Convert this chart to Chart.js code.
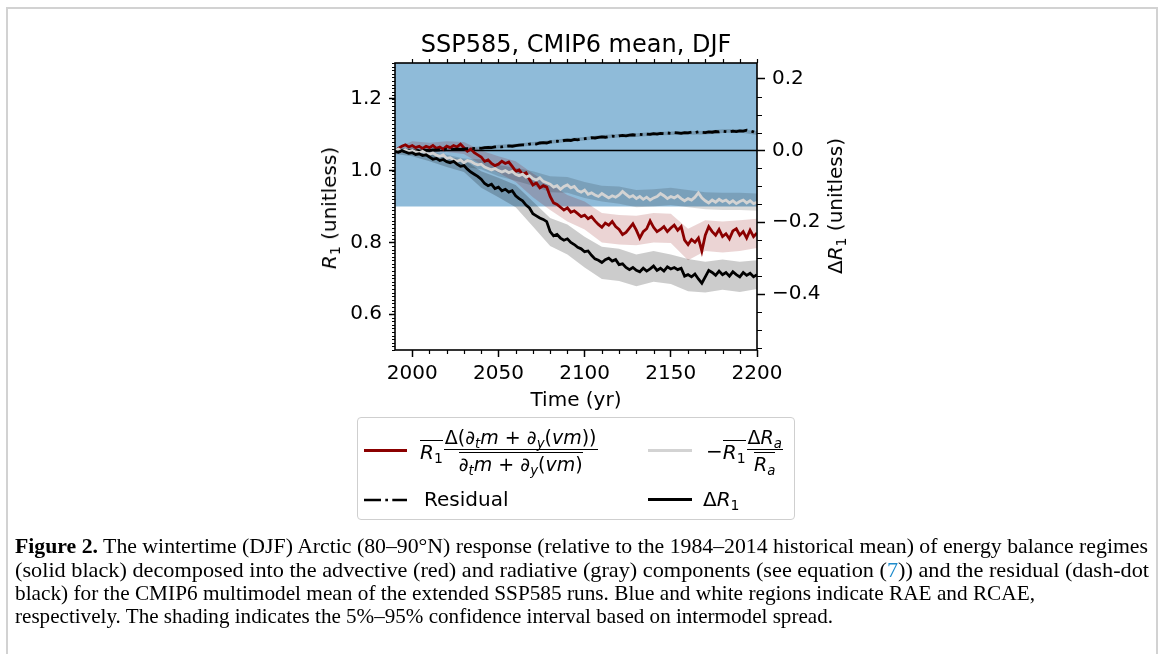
<!DOCTYPE html>
<html>
<head>
<meta charset="utf-8">
<script src="https://cdn.jsdelivr.net/npm/chart.js@4.4.0/dist/chart.umd.min.js"></script>
<style>
  html, body { margin: 0; padding: 0; background: #fff; overflow: hidden; }
  body { width: 1165px; height: 654px; position: relative; font-family: 'DejaVu Sans', sans-serif; color: #000; }
  #frame { position: absolute; left: 6px; top: 7px; width: 1152px; height: 700px; border: 2px solid #d2d2d2; box-sizing: border-box; }
  #c { position: absolute; left: 0; top: 0; }
  .abs { position: absolute; white-space: nowrap; }
  sub { font-size: 0.7em; vertical-align: -0.3em; line-height: 0; }
  .ytitle { font-size: 20px; transform: translate(-50%, -50%) rotate(-90deg); line-height: 24px; }
  #legend { position: absolute; left: 357px; top: 417px; width: 438px; height: 103px; border: 1px solid #cfcfcf; border-radius: 4px; box-sizing: border-box; }
  .swatch { position: absolute; height: 3px; }
  .lab { position: absolute; display: flex; align-items: center; font-size: 20px; white-space: nowrap; }
  .ov { display: inline-block; border-top: 1.3px solid #000; line-height: 20px; padding-top: 1px; }
  .frac { display: inline-flex; flex-direction: column; align-items: center; font-size: 19px; line-height: 21px; margin-left: 1px; }
  .num { border-bottom: 1.3px solid #000; padding: 0 1px 1px 1px; }
  .den { padding-top: 2px; }
  .den .ov { line-height: 21px; }
  .txt { position: absolute; font-size: 20px; line-height: 24px; white-space: nowrap; }
  .cap { position: absolute; left: 15px; font-family: 'Liberation Serif', serif; font-size: 21.5px; line-height: 24px; white-space: nowrap; }
  .cap .l { display: inline-block; transform-origin: 0 50%; }
  .cap .ref { color: #1f8ccc; }
</style>
</head>
<body>
<div id="frame"></div>
<canvas id="c" width="1165" height="654"></canvas>

<div class="abs ytitle" style="left:329px; top:208px;"><i>R</i><sub>1</sub> (unitless)</div>
<div class="abs ytitle" style="left:835px; top:206px;">Δ<i>R</i><sub>1</sub> (unitless)</div>

<div id="legend"></div>
<div class="swatch" style="left:364px; top:449px; width:43px; background:#8b0000;"></div>
<svg class="abs" style="left:364px; top:495px;" width="43" height="10"><line x1="0" y1="5" x2="43" y2="5" stroke="#000" stroke-width="2.7" stroke-dasharray="17,4.3,2.7,4.3"/></svg>
<div class="swatch" style="left:648px; top:449px; width:44px; background:#d3d3d3;"></div>
<div class="swatch" style="left:648px; top:498px; width:44px; background:#000;"></div>

<div class="lab" style="left:420px; top:425px; height:52px;">
  <span class="ov"><i>R</i><sub>1</sub></span>
  <span class="frac">
    <span class="num">Δ(<i>∂</i><sub><i>t</i></sub><i>m</i> + <i>∂</i><sub><i>y</i></sub>(<i>vm</i>))</span>
    <span class="den"><span class="ov"><i>∂</i><sub><i>t</i></sub><i>m</i> + <i>∂</i><sub><i>y</i></sub>(<i>vm</i>)</span></span>
  </span>
</div>
<div class="lab" style="left:706px; top:425px; height:52px;">
  <span>−</span><span class="ov"><i>R</i><sub>1</sub></span>
  <span class="frac">
    <span class="num">Δ<i>R</i><sub><i>a</i></sub></span>
    <span class="den"><span class="ov"><i>R</i><sub><i>a</i></sub></span></span>
  </span>
</div>
<div class="txt" style="left:424px; top:487px;">Residual</div>
<div class="txt" style="left:703px; top:487px;">Δ<i>R</i><sub>1</sub></div>

<div class="cap" style="top:534px;"><span class="l" data-w="1133"><b>Figure 2.</b> The wintertime (DJF) Arctic (80–90°N) response (relative to the 1984–2014 historical mean) of energy balance regimes</span></div>
<div class="cap" style="top:558px;"><span class="l" data-w="1134">(solid black) decomposed into the advective (red) and radiative (gray) components (see equation (<span class="ref">7</span>)) and the residual (dash-dot</span></div>
<div class="cap" style="top:581px;"><span class="l" data-w="1020">black) for the CMIP6 multimodel mean of the extended SSP585 runs. Blue and white regions indicate RAE and RCAE,</span></div>
<div class="cap" style="top:604px;"><span class="l" data-w="818">respectively. The shading indicates the 5%–95% confidence interval based on intermodel spread.</span></div>

<script>
// samples every 2 years from 1990 to 2200 (values are ΔR1 units, right axis)
var startYear = 1990, endYear = 2200;
var years = [];
for (var yr = startYear; yr <= endYear; yr += 2) years.push(yr);
var bandYears = [];
for (var yb = startYear; yb <= endYear; yb += 10) bandYears.push(yb);

var r1Ref = 1.056;          // 1984-2014 historical mean R1 (left axis value of ΔR1 = 0)
var raeThreshold = 0.9;     // RAE above, RCAE below

var advective = [
  -0.004, 0.006, 0.012, 0.016, 0.010, 0.014, 0.008, 0.012, 0.006, 0.012,
  0.008, 0.014, 0.006, 0.010, 0.004, 0.012, 0.008, 0.014, 0.010, 0.018,
  0.008, -0.002, 0.004, -0.006, -0.012, -0.018, -0.030, -0.026, -0.036, -0.042,
  -0.038, -0.030, -0.036, -0.032, -0.044, -0.058, -0.054, -0.066, -0.062, -0.080,
  -0.096, -0.090, -0.104, -0.098, -0.102, -0.128, -0.146, -0.150, -0.158, -0.166,
  -0.160, -0.172, -0.168, -0.176, -0.184, -0.180, -0.190, -0.184, -0.196, -0.206,
  -0.214, -0.202, -0.208, -0.198, -0.212, -0.220, -0.234, -0.228, -0.216, -0.204,
  -0.222, -0.244, -0.226, -0.218, -0.196, -0.214, -0.226, -0.220, -0.212, -0.226,
  -0.216, -0.208, -0.222, -0.212, -0.250, -0.262, -0.248, -0.256, -0.244, -0.280,
  -0.236, -0.212, -0.226, -0.236, -0.220, -0.240, -0.232, -0.246, -0.224, -0.218,
  -0.236, -0.226, -0.244, -0.222, -0.240, -0.230
];
var radiative = [
  0.000, 0.004, -0.002, 0.002, -0.003, 0.000, -0.004, -0.006, -0.002, -0.008,
  -0.010, -0.007, -0.013, -0.016, -0.012, -0.022, -0.020, -0.026, -0.030, -0.026,
  -0.034, -0.028, -0.030, -0.036, -0.040, -0.038, -0.046, -0.050, -0.054, -0.050,
  -0.056, -0.060, -0.056, -0.062, -0.058, -0.066, -0.070, -0.066, -0.074, -0.070,
  -0.078, -0.082, -0.076, -0.086, -0.090, -0.094, -0.102, -0.098, -0.108, -0.100,
  -0.096, -0.104, -0.100, -0.112, -0.116, -0.110, -0.122, -0.118, -0.124, -0.128,
  -0.120, -0.126, -0.132, -0.126, -0.130, -0.124, -0.114, -0.122, -0.130, -0.126,
  -0.134, -0.128, -0.136, -0.130, -0.138, -0.132, -0.128, -0.120, -0.126, -0.134,
  -0.128, -0.132, -0.126, -0.134, -0.140, -0.134, -0.138, -0.130, -0.118, -0.132,
  -0.140, -0.146, -0.138, -0.144, -0.136, -0.142, -0.138, -0.146, -0.140, -0.148,
  -0.142, -0.138, -0.146, -0.140, -0.148, -0.144
];
var residual = [
  -0.002, -0.001, -0.002, 0.000, -0.001, 0.000, 0.001, -0.001, 0.000, 0.001,
  0.000, 0.002, 0.001, 0.002, 0.001, 0.003, 0.002, 0.003, 0.004, 0.003,
  0.004, 0.005, 0.005, 0.006, 0.007, 0.006, 0.008, 0.009, 0.008, 0.010,
  0.011, 0.010, 0.012, 0.013, 0.012, 0.014, 0.015, 0.016, 0.015, 0.018,
  0.019, 0.018, 0.021, 0.022, 0.021, 0.024, 0.025, 0.026, 0.025, 0.028,
  0.029, 0.028, 0.031, 0.030, 0.032, 0.033, 0.034, 0.036, 0.035, 0.037,
  0.038, 0.037, 0.039, 0.040, 0.039, 0.041, 0.042, 0.041, 0.043, 0.044,
  0.043, 0.045, 0.044, 0.046, 0.045, 0.047, 0.046, 0.048, 0.047, 0.049,
  0.048, 0.050, 0.049, 0.048, 0.050, 0.049, 0.051, 0.050, 0.052, 0.051,
  0.050, 0.052, 0.051, 0.053, 0.052, 0.054, 0.053, 0.052, 0.054, 0.053,
  0.055, 0.054, 0.057, 0.055, 0.052, 0.048
];
var deltaR1 = [
  -0.002, -0.005, 0.000, -0.004, -0.008, -0.006, -0.011, -0.009, -0.014, -0.012,
  -0.018, -0.024, -0.022, -0.028, -0.025, -0.031, -0.034, -0.030, -0.038, -0.044,
  -0.042, -0.052, -0.060, -0.066, -0.072, -0.080, -0.092, -0.098, -0.094, -0.106,
  -0.102, -0.112, -0.108, -0.116, -0.112, -0.126, -0.134, -0.140, -0.152, -0.160,
  -0.176, -0.182, -0.188, -0.192, -0.198, -0.226, -0.238, -0.234, -0.244, -0.250,
  -0.246, -0.256, -0.262, -0.270, -0.274, -0.282, -0.280, -0.292, -0.302, -0.306,
  -0.312, -0.304, -0.300, -0.308, -0.304, -0.318, -0.316, -0.326, -0.332, -0.326,
  -0.334, -0.338, -0.328, -0.336, -0.330, -0.322, -0.334, -0.328, -0.336, -0.324,
  -0.330, -0.326, -0.332, -0.328, -0.350, -0.346, -0.352, -0.344, -0.358, -0.370,
  -0.352, -0.334, -0.340, -0.348, -0.336, -0.346, -0.340, -0.350, -0.338, -0.346,
  -0.352, -0.340, -0.348, -0.342, -0.352, -0.346
];

// 5-95% spread, every 10 years
var advectiveLow  = [-0.012, 0.002, -0.006, -0.004, -0.010, -0.038, -0.062, -0.088, -0.130, -0.166, -0.198, -0.220, -0.256, -0.262, -0.264, -0.256, -0.258, -0.306, -0.280, -0.284, -0.280, -0.272];
var advectiveHigh = [0.006, 0.026, 0.022, 0.026, 0.024, 0.000, -0.016, -0.030, -0.064, -0.094, -0.124, -0.142, -0.174, -0.180, -0.182, -0.174, -0.176, -0.218, -0.194, -0.198, -0.194, -0.190];
var radiativeLow  = [-0.006, -0.008, -0.018, -0.032, -0.046, -0.052, -0.072, -0.084, -0.098, -0.116, -0.118, -0.132, -0.142, -0.148, -0.158, -0.156, -0.152, -0.158, -0.164, -0.166, -0.166, -0.168];
var radiativeHigh = [0.006, 0.008, -0.002, -0.012, -0.022, -0.024, -0.040, -0.048, -0.058, -0.072, -0.074, -0.088, -0.098, -0.100, -0.110, -0.108, -0.104, -0.110, -0.116, -0.118, -0.118, -0.120];
var residualLow   = [-0.007, -0.005, -0.005, -0.002, -0.001, 0.001, 0.006, 0.009, 0.014, 0.019, 0.024, 0.028, 0.033, 0.036, 0.038, 0.042, 0.043, 0.044, 0.045, 0.049, 0.050, 0.043];
var residualHigh  = [0.003, 0.005, 0.005, 0.008, 0.009, 0.011, 0.016, 0.019, 0.024, 0.029, 0.034, 0.038, 0.043, 0.046, 0.048, 0.052, 0.053, 0.054, 0.055, 0.059, 0.060, 0.054];
var deltaLow      = [-0.010, -0.016, -0.030, -0.046, -0.060, -0.104, -0.130, -0.158, -0.212, -0.266, -0.290, -0.326, -0.358, -0.364, -0.378, -0.366, -0.372, -0.392, -0.396, -0.388, -0.394, -0.386];
var deltaHigh     = [0.006, 0.004, -0.008, -0.018, -0.026, -0.058, -0.076, -0.096, -0.142, -0.188, -0.206, -0.240, -0.268, -0.274, -0.290, -0.280, -0.290, -0.302, -0.310, -0.304, -0.310, -0.306];

var xTicks = [2000, 2050, 2100, 2150, 2200];
var leftTicks = [0.6, 0.8, 1.0, 1.2];
var rightTicks = [-0.4, -0.2, 0.0, 0.2];

function pts(xs, ys) { return ys.map(function(v, i) { return {x: xs[i], y: v}; }); }
function band(lo, hi, color, ord) {
  return [
    {data: pts(bandYears, lo), yAxisID: 'y1', borderWidth: 0, pointRadius: 0, fill: false, order: ord},
    {data: pts(bandYears, hi), yAxisID: 'y1', borderWidth: 0, pointRadius: 0, fill: '-1', backgroundColor: color, order: ord}
  ];
}
function line(ys, color, ord, dash) {
  return {data: pts(years, ys), yAxisID: 'y1', borderColor: color, borderWidth: 2.8, pointRadius: 0,
    tension: 0, fill: false, order: ord, borderDash: dash || [], borderCapStyle: 'butt'};
}

var datasets = [
  {data: [{x: startYear, y: raeThreshold}, {x: endYear, y: raeThreshold}], yAxisID: 'y',
   borderWidth: 0, pointRadius: 0, fill: 'end', backgroundColor: '#8fbbd9', order: 20}
].concat(
  band(advectiveLow, advectiveHigh, 'rgba(139,0,0,0.17)', 9),
  band(residualLow, residualHigh, 'rgba(0,0,0,0.18)', 8),
  band(radiativeLow, radiativeHigh, 'rgba(0,0,0,0.14)', 7),
  band(deltaLow, deltaHigh, 'rgba(0,0,0,0.2)', 6),
  [
    {data: [{x: startYear, y: 0}, {x: endYear, y: 0}], yAxisID: 'y1', borderColor: '#000', borderWidth: 1.6, pointRadius: 0, order: 5},
    line(advective, '#8b0000', 4),
    line(residual, '#000', 3, [17, 4.3, 2.7, 4.3]),
    line(radiative, '#d3d3d3', 2),
    line(deltaR1, '#000', 1)
  ]
);

var frameAndMinor = {
  id: 'frameAndMinor',
  afterDatasetsDraw: function(chart) {
    var ctx = chart.ctx, a = chart.chartArea, s = chart.scales;
    var px = function(v) { return Math.round(v) + 0.5; };
    ctx.save();
    ctx.strokeStyle = '#000';
    ctx.lineWidth = 1.2;
    ctx.beginPath();
    for (var k = 50; k <= 130; k++) {
      var yy = px(s.y.getPixelForValue(k / 100));
      ctx.moveTo(a.left - 3, yy); ctx.lineTo(a.left, yy);
    }
    for (var j = -11; j <= 4; j++) {
      if (j % 4 === 0) continue;
      var y1 = px(s.y1.getPixelForValue(j * 0.05));
      ctx.moveTo(a.right, y1); ctx.lineTo(a.right + 5, y1);
    }
    for (var t = 2000; t <= 2200; t += 10) {
      var xx = px(s.x.getPixelForValue(t));
      ctx.moveTo(xx, a.top); ctx.lineTo(xx, a.top - 4);
      if (t % 50 !== 0) { ctx.moveTo(xx, a.bottom); ctx.lineTo(xx, a.bottom + 4); }
    }
    ctx.stroke();
    ctx.lineWidth = 1.6;
    ctx.strokeRect(a.left, a.top, a.right - a.left, a.bottom - a.top);
    ctx.restore();
  }
};

Chart.defaults.font.family = "'DejaVu Sans', sans-serif";
Chart.defaults.color = '#000';

var tickGrid = function(len) {
  return {drawOnChartArea: false, drawTicks: true, tickLength: len, tickWidth: 1.5, tickColor: '#000'};
};
function minusFmt(v) { return (v < -1e-9 ? '\u2212' : '') + Math.abs(v).toFixed(1); }

new Chart(document.getElementById('c'), {
  type: 'line',
  data: {datasets: datasets},
  plugins: [frameAndMinor],
  options: {
    responsive: false,
    animation: false,
    devicePixelRatio: 1,
    layout: {padding: {left: 325, right: 338, top: 0, bottom: 241}},
    plugins: {
      legend: {display: false},
      tooltip: {enabled: false},
      title: {display: true, text: 'SSP585, CMIP6 mean, DJF', color: '#000',
        font: {size: 24, weight: 'normal'}, padding: {top: 31, bottom: 3.2}}
    },
    scales: {
      x: {
        type: 'linear', position: 'bottom', min: startYear, max: endYear,
        afterBuildTicks: function(sc) { sc.ticks = xTicks.map(function(v) { return {value: v}; }); },
        afterFit: function(sc) { sc.height = 63; },
        ticks: {font: {size: 20}, padding: 5, autoSkip: false, maxRotation: 0, callback: function(v) { return String(v); }},
        grid: tickGrid(7),
        border: {display: false},
        title: {display: true, text: 'Time (yr)', font: {size: 20}, padding: 0}
      },
      y: {
        type: 'linear', position: 'left', min: 0.5, max: 1.3,
        afterBuildTicks: function(sc) { sc.ticks = leftTicks.map(function(v) { return {value: v}; }); },
        afterFit: function(sc) { sc.width = 70; },
        ticks: {font: {size: 20}, padding: 7, autoSkip: false, callback: function(v) { return v.toFixed(1); }},
        grid: tickGrid(6),
        border: {display: false}
      },
      y1: {
        type: 'linear', position: 'right', min: 0.5 - r1Ref, max: 1.3 - r1Ref,
        afterBuildTicks: function(sc) { sc.ticks = rightTicks.map(function(v) { return {value: v}; }); },
        afterFit: function(sc) { sc.width = 70; },
        ticks: {font: {size: 20}, padding: 7, autoSkip: false, callback: minusFmt},
        grid: tickGrid(8),
        border: {display: false}
      }
    }
  }
});

document.querySelectorAll('.cap .l').forEach(function(el) {
  var w = el.getBoundingClientRect().width;
  el.style.transform = 'scaleX(' + (parseFloat(el.dataset.w) / w) + ')';
});
</script>
</body>
</html>
